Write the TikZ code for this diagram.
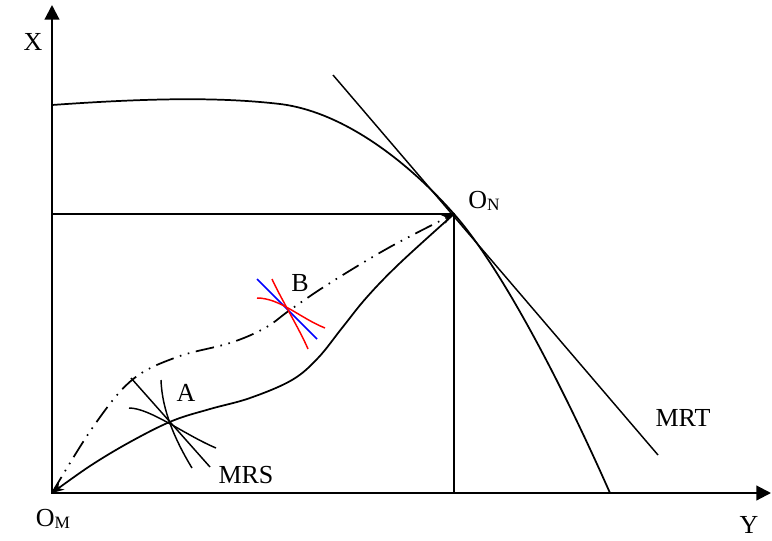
\documentclass[tikz,border=0pt]{standalone}
\usepackage{fontspec}
\setmainfont{Liberation Serif}
\usetikzlibrary{arrows.meta}

\begin{document}
\begin{tikzpicture}[x=0.75pt,y=-0.75pt,
  curve/.style={line width=1.3pt},
  thin curve/.style={line width=1.1pt},
  frame/.style={line width=1.9pt},
  axis/.style={line width=1.6pt,-{Triangle[length=11pt,width=11pt]}},
  lbl/.style={font=\fontsize{19.5}{21}\selectfont,inner sep=0pt},
  dashdotdot/.style={dash pattern=on 14pt off 5pt on 1.2pt off 5pt on 1.2pt off 5pt},
  tip/.style={-{Stealth[length=9pt,width=7pt]}}]
\useasboundingbox (0,0) rectangle (772,540);
% Origins and ends
\coordinate (om) at (52,493);
\coordinate (on) at (454,214);
\coordinate (xtip) at (52,5);
\coordinate (ytip) at (771,493);
\coordinate (xf) at (52,105);
\coordinate (yf) at (610,493);
\coordinate (mrt1) at (333,75);
\coordinate (mrt2) at (658,455);
% Axes and box
\draw[axis] (om) -- (xtip);
\draw[axis] (om) -- (ytip);
\draw[frame] (om) rectangle (on);
% Production frontier and MRT line
\draw[curve] (xf) .. controls (150,98) and (220,97) .. (280,104)
  .. controls (345,112) and (410,164) .. (on)
  .. controls (500,266) and (560,380) .. (yf);
\draw[thin curve] (mrt1) -- (mrt2);
% Contract curves
\draw[curve,dashdotdot,tip] plot[smooth,tension=0.6] coordinates {(om) (93,427) (132,380)
  (177,357) (230,343) (265,328) (290,310) (330,283) (390,247) (on)};
\draw[curve,tip] plot[smooth,tension=0.6] coordinates {(on) (400,263) (367,297) (342,328)
  (318,358) (292,380) (250,398) (210,409) (172,421) (130,442) (90,466) (om)};
% Tangency at A
\coordinate (a1) at (131,378);
\coordinate (a2) at (210,467);
\draw[thin curve] (a1) -- (a2);
\draw[thin curve] (161,380) .. controls (162,410) and (175,440) .. (192,468);
\draw[thin curve] (129,408) .. controls (150,408) and (185,435) .. (216,448);
% Tangency at B
\coordinate (b1) at (257,279);
\coordinate (b2) at (317,339);
\draw[blue,thin curve] (b1) -- (b2);
\draw[red,thin curve] (272,279) .. controls (280,297) and (300,330) .. (308,349);
\draw[red,thin curve] (257,298) .. controls (280,298) and (300,318) .. (325,328);
% Labels
\node[lbl] (xlab) at (33,42) {X};
\node[lbl] (ylab) at (749,525) {Y};
\node[lbl] (onlab) at (484,201) {O\raisebox{-1pt}{\fontsize{13}{13}\selectfont N}};
\node[lbl] (omlab) at (53,519) {O\raisebox{-1pt}{\fontsize{13}{13}\selectfont M}};
\node[lbl] (alab) at (186,393) {A};
\node[lbl] (blab) at (300,283) {B};
\node[lbl] (mrs) at (246,475) {MRS};
\node[lbl] (mrt) at (683,418) {MRT};
\end{tikzpicture}
\end{document}
